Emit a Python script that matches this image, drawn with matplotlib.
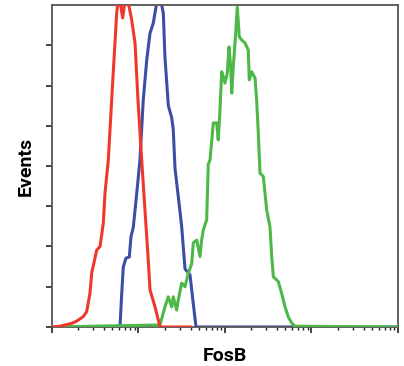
import matplotlib
matplotlib.use("Agg")
import matplotlib.pyplot as plt
import numpy as np
from matplotlib.ticker import LogLocator, NullFormatter

# intensities as log10 exponents, events in arbitrary units (axis tops out at 8)
red_log = [0.0, 0.09, 0.228, 0.29, 0.362, 0.401, 0.439, 0.459, 0.517, 0.555, 0.593, 0.613,
           0.651, 0.690, 0.728, 0.748, 0.763, 0.786, 0.817, 0.844, 0.879, 0.921, 0.960,
           0.994, 1.037, 1.075, 1.113, 1.133, 1.191, 1.249, 1.6]
red_events = [0.0, 0.02, 0.09, 0.15, 0.26, 0.38, 0.84, 1.34, 1.91, 2.0, 2.58, 3.33,
              4.15, 5.64, 7.06, 7.8, 8.1, 8.1, 7.68, 8.1, 8.1, 7.63, 7.06,
              5.64, 4.15, 2.9, 1.66, 0.92, 0.5, 0.0, 0.0]

blue_log = [0.786, 0.806, 0.824, 0.855, 0.894, 0.913, 0.940, 0.979, 1.017, 1.055, 1.095,
            1.133, 1.171, 1.210, 1.249, 1.287, 1.306, 1.345, 1.384, 1.402, 1.422, 1.460,
            1.499, 1.538, 1.595, 1.634, 1.665, 4.0]
blue_events = [0.0, 0.82, 1.49, 1.71, 1.74, 2.24, 2.48, 3.31, 4.15, 5.64, 6.63,
               7.30, 7.55, 8.05, 8.2, 7.8, 6.7, 5.5, 5.2, 4.9, 3.95, 3.24,
               2.5, 1.44, 1.3, 0.57, 0.0, 0.0]

green_log = [0.0, 1.249, 1.306, 1.344, 1.384, 1.402, 1.441, 1.460, 1.499, 1.538, 1.576,
             1.615, 1.634, 1.673, 1.711, 1.730, 1.749, 1.788, 1.807, 1.827, 1.865, 1.904,
             1.922, 1.942, 1.962, 1.980, 2.0, 2.027, 2.046, 2.066, 2.078, 2.096, 2.116,
             2.142, 2.165, 2.193, 2.231, 2.269, 2.281, 2.308, 2.347, 2.366, 2.385, 2.405,
             2.443, 2.482, 2.520, 2.540, 2.559, 2.616, 2.655, 2.694, 2.732, 2.771, 2.809, 4.0]
green_events = [0.0, 0.05, 0.5, 0.75, 0.5, 0.75, 0.42, 0.67, 1.09, 1.0, 1.34,
                1.57, 2.09, 2.16, 1.75, 2.16, 2.41, 2.66, 4.05, 4.15, 5.07, 5.07,
                4.65, 5.39, 6.34, 6.22, 6.06, 6.31, 6.96, 6.47, 5.81, 6.47, 7.06,
                7.95, 7.21, 7.13, 7.06, 6.88, 6.14, 6.34, 6.19, 5.64, 4.82, 3.82,
                3.74, 2.91, 2.49, 1.75, 1.25, 1.13, 0.84, 0.5, 0.25, 0.1, 0.02, 0.0]

label_font = ["Roboto", "DejaVu Sans"]

fig = plt.figure(figsize=(4.04, 3.66), dpi=100)
ax = fig.add_axes([0.1287, 0.1066, 0.8564, 0.8797])

lw = 2.2
ax.plot(10 ** np.array(blue_log), blue_events, color="#3a4ea6", linewidth=lw, zorder=2)
ax.plot(10 ** np.array(green_log), green_events, color="#4cb847", linewidth=lw, zorder=3)
ax.plot(10 ** np.array(red_log), red_events, color="#f0372c", linewidth=lw, zorder=4)

ax.set_xscale("log")
ax.set_xlim(1, 1e4)
ax.set_ylim(0, 8)
ax.xaxis.set_major_locator(LogLocator(base=10, numticks=10))
ax.xaxis.set_minor_locator(LogLocator(base=10, subs=np.arange(2, 10), numticks=20))
ax.xaxis.set_major_formatter(NullFormatter())
ax.xaxis.set_minor_formatter(NullFormatter())
ax.set_yticks(np.arange(0, 8))
ax.set_yticklabels([])

for side in ["top", "right", "left", "bottom"]:
    ax.spines[side].set_color("#555555")
    ax.spines[side].set_linewidth(1.3)
ax.tick_params(axis="both", which="major", direction="out", length=4.5, width=1.2, color="#222222")
ax.tick_params(axis="x", which="minor", direction="out", length=2.5, width=1.0, color="#222222")

# axis titles placed in figure pixels to match the reference
fig.text(225 / 404, 5 / 366, "FosB", fontsize=14, fontweight="bold", family=label_font,
         ha="center", va="baseline")
fig.text(26 / 404, 1 - 166 / 366, "Events", fontsize=14, fontweight="bold", family=label_font,
         ha="center", va="center", rotation=90)

fig.savefig("out.png", dpi=100)
plt.close(fig)
